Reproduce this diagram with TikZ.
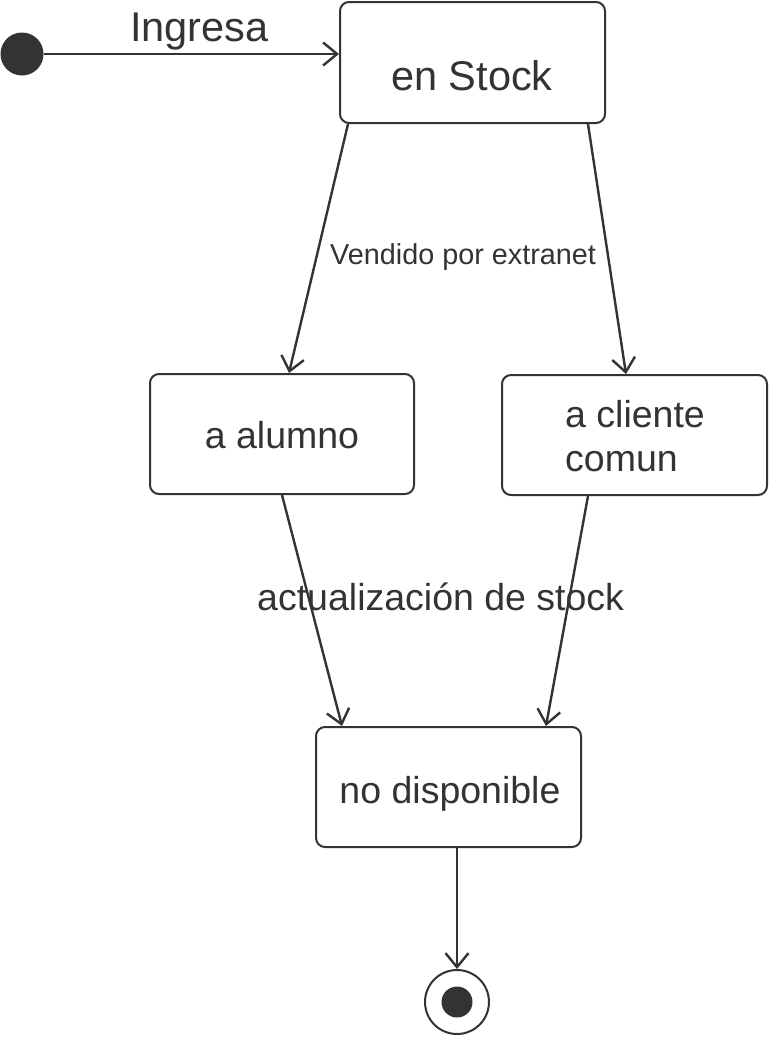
\documentclass[tikz,border=0pt]{standalone}
\usepackage{fontspec}
\setmainfont{Liberation Sans}
\usetikzlibrary{arrows.meta}
\definecolor{ink}{HTML}{333333}
\begin{document}
\begin{tikzpicture}[x=1pt,y=-1pt,
  state/.style={draw=ink,line width=2pt,rounded corners=9pt,minimum width=#1,inner sep=0pt},
  state/.default=265pt,
  lbl/.style={text=ink,inner sep=0pt,font=\fontsize{37.5}{44}\selectfont},
  trans/.style={draw=ink,line width=2.4pt,-{Straight Barb[length=14pt,width=23pt]}}]
\useasboundingbox (0,0) rectangle (770,1039);
% states
\node[state,minimum height=121pt] (stock) at (472.5,62.5) {};
\node[state=264pt,minimum height=120pt] (alumno) at (282,434) {};
\node[state,minimum height=120pt] (cliente) at (634.5,435) {};
\node[state,minimum height=120pt] (nodisp) at (448.5,787) {};
% texts
\node[lbl,anchor=base,font=\fontsize{41.5}{48}\selectfont] (tstock) at (472,90) {en Stock};
\node[lbl,anchor=base] (talumno) at (282,448) {a alumno};
\node[lbl,anchor=base west] (tcl1) at (565,427) {a cliente};
\node[lbl,anchor=base west] (tcl2) at (565,471) {comun};
\node[lbl,anchor=base] (tnd) at (450,803) {no disponible};
% initial / final
\node[circle,fill=ink,minimum size=43pt,inner sep=0pt] (init) at (22,54) {};
\node[circle,draw=ink,line width=2pt,minimum size=64pt,inner sep=0pt] (final) at (457,1002) {};
\node[circle,fill=ink,minimum size=31pt,inner sep=0pt] (finalin) at (457,1002) {};
% transitions
\draw[trans] (init.east) -- (stock.west |- init.east);
\node[lbl,anchor=base west,font=\fontsize{41.5}{48}\selectfont] (ting) at (130,41) {Ingresa};
\draw[trans] ([xshift=9pt]stock.south west) -- ([xshift=140pt]alumno.north west);
\draw[trans] ([xshift=-18pt]stock.south east) -- ([xshift=-142pt]cliente.north east);
\node[lbl,anchor=base west,font=\fontsize{28.8}{34}\selectfont] (tvend) at (330,264) {Vendido por extranet};
\draw[trans] ([xshift=133pt]alumno.south west) -- ([xshift=27pt]nodisp.north west);
\draw[trans] ([xshift=-180pt]cliente.south east) -- ([xshift=-36pt]nodisp.north east);
\node[lbl,anchor=base west] (tact) at (257,610) {actualización de stock};
\draw[trans] (nodisp.south -| final.north) -- (final.north);
\end{tikzpicture}
\end{document}
